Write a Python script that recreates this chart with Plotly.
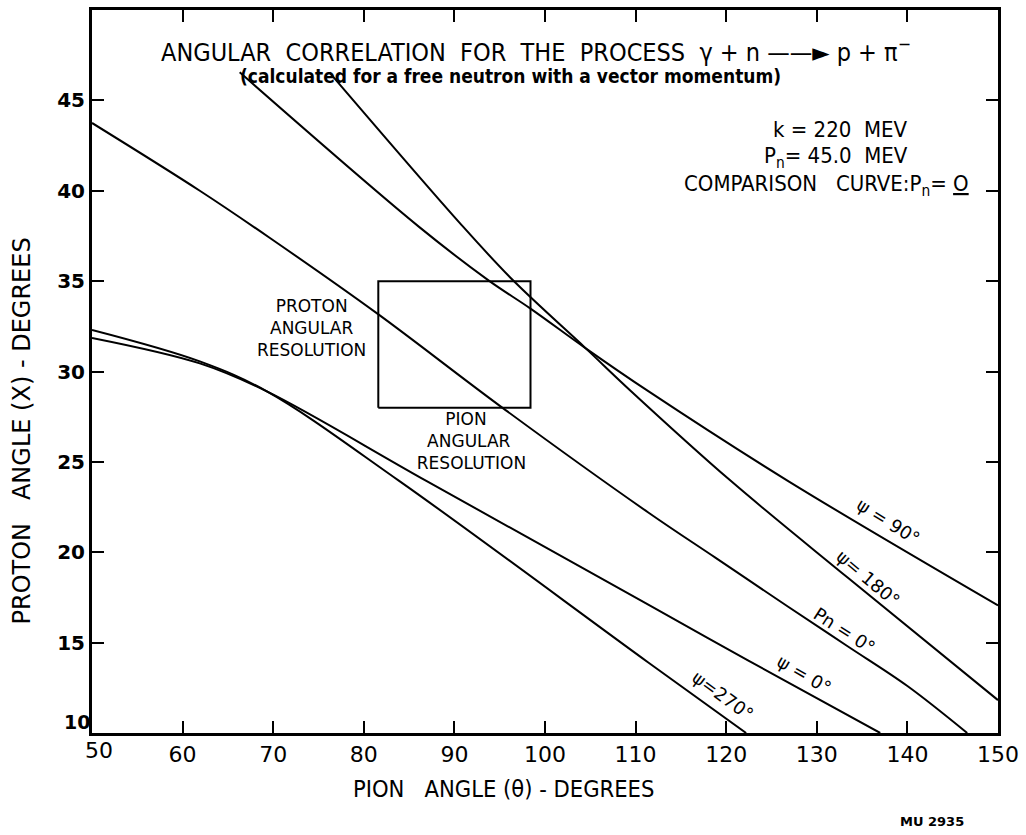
import plotly.graph_objects as go

# ---------------- data ----------------
# Comparison curve Pn = 0
pn0_x = [50.0, 61.9, 69.6, 81.5, 95.2, 111.4, 118.8, 126.8, 133.4, 140.0, 146.6]
pn0_y = [43.75, 40.0, 37.4, 33.2, 28.03, 22.2, 19.7, 17.0, 14.8, 12.6, 10.0]

# psi = 90 deg
psi90_x = [66.3, 86.1, 93.8, 98.4, 104.5, 111.4, 126.8, 150.0]
psi90_y = [46.55, 38.0, 35.03, 33.48, 31.28, 28.91, 23.95, 17.06]

# psi = 180 deg
psi180_x = [76.2, 90.8, 96.5, 104.5, 109.5, 120.5, 133.4, 150.0]
psi180_y = [46.55, 38.1, 35.03, 31.28, 28.91, 23.95, 18.6, 11.82]

# psi = 0 deg
psi0_x = [50.0, 61.9, 69.3, 86.9, 111.4, 122.4, 137.0]
psi0_y = [31.86, 30.45, 28.9, 23.95, 17.1, 14.02, 10.0]

# psi = 270 deg
psi270_x = [50.0, 61.9, 69.3, 83.9, 111.4, 122.2]
psi270_y = [32.3, 30.56, 28.9, 23.95, 13.9, 10.0]

# angular resolution box
box_x = [81.6, 98.4]
box_y = [28.0, 35.0]

x_ticks = [60, 70, 80, 90, 100, 110, 120, 130, 140, 150]
x_ticktext = ["60", "70", "80", "90", "100", "110", "120", "130", "140", "150"]
y_ticks = [15, 20, 25, 30, 35, 40, 45]
y_ticktext = ["15", "20", "25", "30", "35", "40", "45"]

# ---------------- figure ----------------
W, H = 1026, 835
L, R, T, B = 92, 1001, 7, 733

def px(x):
    return (x - L) / (R - L)

def py(y):
    return (B - y) / (B - T)

FONT = "DejaVu Sans, Liberation Sans, sans-serif"
COND = "DejaVu Sans Condensed, Liberation Sans Narrow, DejaVu Sans, sans-serif"

fig = go.Figure()
line_style = dict(color="black", width=2)
for xs, ys in [(pn0_x, pn0_y), (psi90_x, psi90_y), (psi180_x, psi180_y),
               (psi0_x, psi0_y), (psi270_x, psi270_y)]:
    fig.add_trace(go.Scatter(x=xs, y=ys, mode="lines", line=line_style,
                             line_shape="spline", hoverinfo="skip", showlegend=False))

# box
fig.add_trace(go.Scatter(
    x=[box_x[0], box_x[1], box_x[1], box_x[0], box_x[0]],
    y=[box_y[0], box_y[0], box_y[1], box_y[1], box_y[0]],
    mode="lines", line=dict(color="black", width=2), hoverinfo="skip", showlegend=False))

ann = []
def add(text, x, y, size, family=FONT, weight="normal", angle=0):
    ann.append(dict(text=text, x=px(x), y=py(y), xref="paper", yref="paper",
                    showarrow=False, textangle=angle, xanchor="center", yanchor="middle",
                    align="center",
                    font=dict(family=family, size=size, color="black", weight=weight)))

add("ANGULAR  CORRELATION  FOR  THE  PROCESS  γ + n ——► p + π<sup>−</sup>", 537, 48, 25, family=COND)
add("(calculated for a free neutron with a vector momentum)", 512, 73, 19, family=COND, weight="bold")
add("k = 220  MEV", 843, 127, 22, family=COND)
add("P<sub>n</sub>= 45.0  MEV", 838, 155, 22, family=COND)
add("COMPARISON   CURVE:P<sub>n</sub>= <u>O</u>", 829, 183, 22, family=COND)
add("PROTON<br>ANGULAR<br>RESOLUTION", 312, 326, 17)
add("PION<br> ANGULAR<br>  RESOLUTION", 467, 440, 17)

add("ψ = 90°", 891, 521, 18, angle=32)
add("ψ= 180°", 871, 578, 18, angle=40)
add("Pn = 0°", 847, 630, 18, angle=33)
add("ψ = 0°", 807, 674, 18, angle=30)
add("ψ=270°", 725, 695, 18, angle=36)

add("PION   ANGLE (θ) - DEGREES", 505, 789, 23.5, family=COND)
add("PROTON   ANGLE (X) - DEGREES", 22, 430, 24, angle=-90)
add("MU 2935", 935, 822, 13, weight="bold")
add("10", 77, 722, 19, weight="bold")
add("50", 99, 751, 22)

fig.update_layout(
    width=W, height=H,
    margin=dict(l=L, r=W - R, t=T, b=H - B),
    paper_bgcolor="white", plot_bgcolor="white",
    annotations=ann,
    xaxis=dict(range=[50, 150], tickvals=x_ticks, ticktext=x_ticktext,
               ticks="inside", ticklen=12, tickwidth=2, tickcolor="black",
               showline=True, linecolor="black", linewidth=3, mirror="ticks",
               showgrid=False, zeroline=False,
               tickfont=dict(family=FONT, size=22, color="black")),
    yaxis=dict(range=[10, 50], tickvals=y_ticks, ticktext=y_ticktext,
               ticks="inside", ticklen=12, tickwidth=2, tickcolor="black",
               showline=True, linecolor="black", linewidth=3, mirror="ticks",
               showgrid=False, zeroline=False,
               tickfont=dict(family=FONT, size=20, color="black", weight="bold")),
)

fig.write_html("out.html")
